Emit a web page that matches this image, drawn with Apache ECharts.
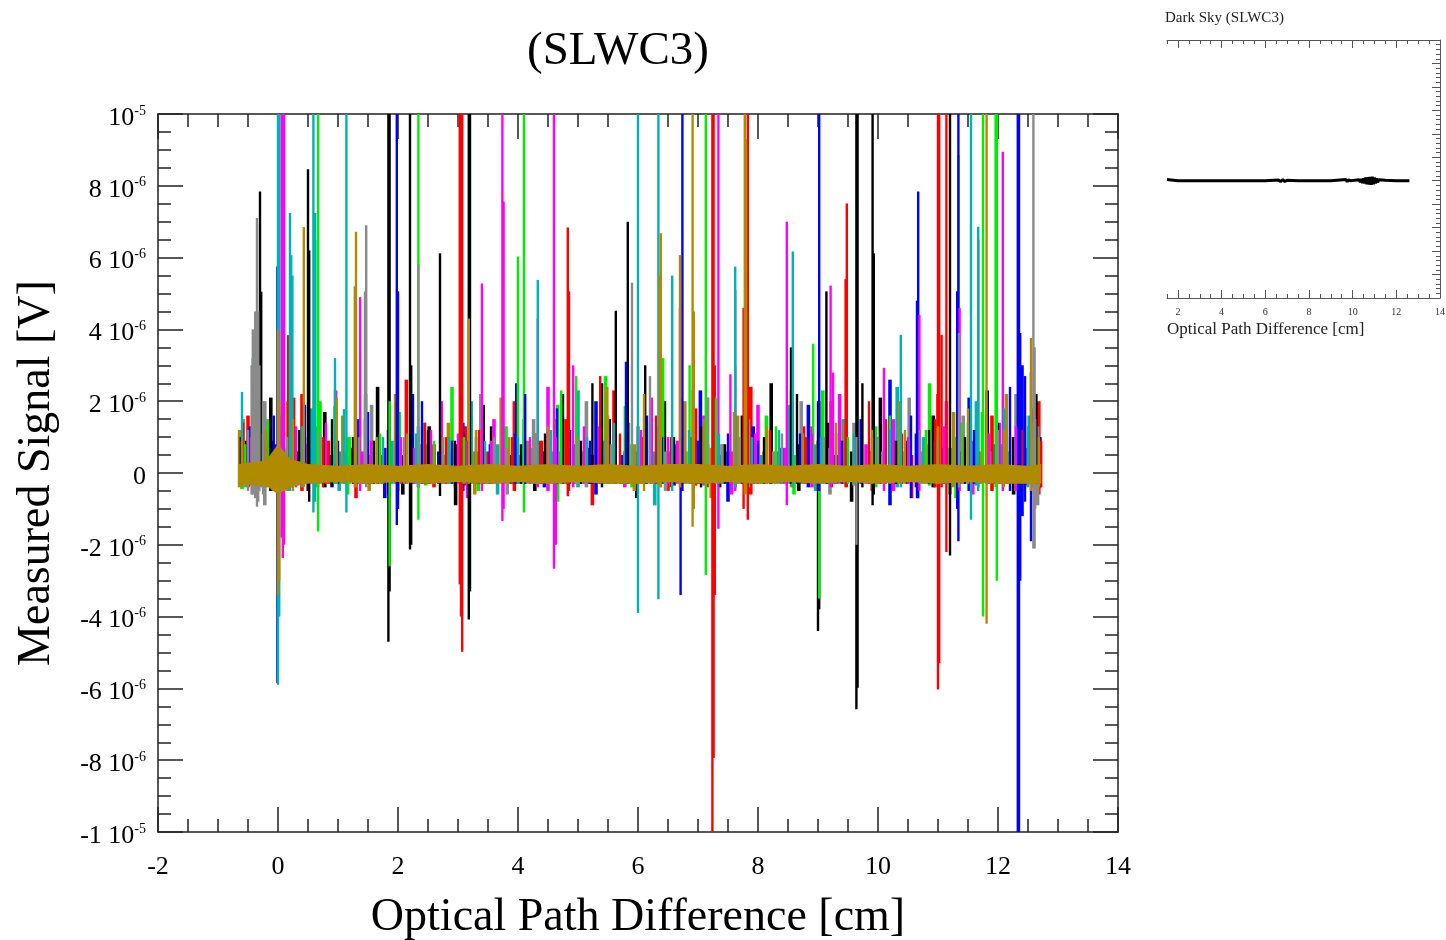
<!DOCTYPE html>
<html>
<head>
<meta charset="utf-8">
<script src="https://cdn.jsdelivr.net/npm/echarts@6/dist/echarts.min.js"></script>
<style>
html,body{margin:0;padding:0;background:#fff;}
#chart{width:1446px;height:940px;}
</style>
</head>
<body>
<div id="chart"></div>
<script>
// ---------------- DATA (signal in units of 1e-6 V) ----------------
// each spike: [opticalPathDifference_cm, topValue, bottomValue]; values beyond +/-10 run off the frame
const seriesNames = ['black','red','green','blue','magenta','cyan','olive','gray'];

const spikesBlack = [
 [-0.30,7.84,-0.3],[-0.28,5.05,-0.3],[0.50,8.46,-0.5],[0.52,6.2,-0.8],[1.84,12,-4.7],[1.86,12,-3.3],
 [2.20,12,-2.13],[2.22,3.0,-2.0],[2.70,6.12,-0.64],[3.18,12,-4.08],[3.20,12,-3.3],[5.63,4.52,-0.3],
 [5.83,7.0,-0.3],[9.00,2.0,-4.4],[9.02,2.0,-3.8],[9.14,5.06,-0.3],[9.64,12,-6.58],[9.66,12,-5.98],
 [9.91,12,-0.9],[9.93,6.12,-0.6],[11.20,12,-2.3],[12.64,2.2,-0.3],
 [-0.62,1.0,-0.3],[-0.10,0.9,-0.4],[0.35,1.2,-0.3],[0.90,1.5,-0.35],[1.25,1.0,-0.3],[1.60,0.9,-0.3],
 [2.50,1.2,-0.3],[2.95,0.9,-0.4],[3.55,1.3,-0.3],[4.05,0.8,-0.3],[4.45,1.1,-0.3],[5.05,0.9,-0.3],
 [5.24,2.5,-0.3],[5.40,2.5,-0.4],[6.12,3.0,-0.3],[6.60,1.0,-0.3],[7.05,1.3,-0.4],[7.45,0.8,-0.3],
 [8.10,1.0,-0.3],[8.55,3.5,-0.3],[8.65,2.2,-0.3],[9.30,1.1,-0.3],[9.74,2.5,-0.4],[10.30,0.9,-0.3],
 [10.85,1.2,-0.3],[11.45,1.0,-0.3],[12.00,1.4,-0.3],[12.45,1.6,-0.4]
];
const spikesRed = [
 [0.17,3.84,-0.3],[3.03,12,-3.1],[3.05,12,-4.0],[3.07,12,-4.98],[4.83,6.84,-0.65],[4.85,5.06,-0.5],
 [7.24,12,-12],[7.26,12,-7.94],[7.28,3.0,-3.4],[7.76,4.6,-1.0],[7.83,12,-1.3],[9.46,5.4,-0.4],
 [9.48,7.51,-0.4],[11.00,12,-6.03],[11.02,12,-5.3],[11.14,12,-2.2],[11.67,6.5,-0.4],
 [-0.58,1.4,-0.3],[-0.20,0.9,-0.3],[0.27,2.1,-0.3],[0.75,1.0,-0.4],[1.45,1.5,-0.3],[1.98,2.0,-0.3],
 [2.45,1.4,-0.3],[2.80,1.0,-0.3],[3.35,1.2,-0.3],[3.90,1.0,-0.3],[4.40,0.9,-0.3],[5.37,2.7,-0.3],
 [5.70,1.1,-0.3],[6.30,1.6,-0.3],[6.55,1.0,-0.4],[7.16,2.1,-0.4],[8.20,1.2,-0.3],[8.80,1.0,-0.3],
 [9.85,2.0,-0.3],[10.40,1.1,-0.3],[10.95,1.5,-0.4],[11.06,3.85,-0.4],[11.98,1.7,-0.3],[12.40,1.2,-0.3],
 [12.72,0.9,-0.4]
];
const spikesGreen = [
 [0.62,6.5,-0.4],[0.67,12,-1.63],[1.86,2.0,-2.6],[2.34,12,-1.3],[4.00,6.03,-0.3],[4.10,12,-1.1],
 [7.13,12,-2.84],[9.02,1.5,-3.5],[11.34,8.86,-0.4],[11.75,12,-4.0],[11.96,12,-0.4],[11.98,12,-3.0],
 [-0.55,0.8,-0.4],[0.10,1.1,-0.5],[0.94,1.87,-0.3],[1.20,1.0,-0.3],[1.70,1.1,-0.3],[2.60,0.9,-0.3],
 [3.10,1.0,-0.3],[3.60,0.8,-0.3],[4.72,2.3,-0.3],[4.97,2.7,-0.3],[5.78,1.87,-0.3],[6.42,3.2,-0.3],
 [6.86,3.0,-0.3],[7.30,2.1,-0.3],[7.62,3.0,-0.3],[8.30,1.3,-0.3],[8.92,3.6,-0.3],[9.50,1.0,-0.3],
 [10.20,1.6,-0.3],[10.80,1.2,-0.3],[11.40,1.4,-0.3],[12.20,1.0,-0.3],[12.60,0.9,-0.3]
];
const spikesBlue = [
 [-0.01,5.75,-5.85],[1.98,12,-1.45],[2.00,5.06,-1.0],[6.71,1.0,-3.4],[6.74,12,-0.5],[9.02,12,-0.5],
 [10.65,4.8,-0.7],[10.67,7.84,-0.7],[11.32,5.06,-1.0],[11.34,12,-1.9],[12.33,12,-12],[12.35,12,-12],
 [12.37,3.9,-3.0],[12.55,2.8,-1.9],
 [-0.50,0.9,-0.3],[-0.07,1.6,-0.4],[0.45,1.0,-0.3],[1.00,0.9,-0.3],[1.50,1.7,-0.3],[2.40,2.0,-0.3],
 [2.90,0.9,-0.3],[3.30,1.0,-0.3],[3.95,1.1,-0.3],[4.12,2.2,-0.3],[4.65,1.8,-0.3],[5.20,0.9,-0.3],
 [5.80,3.1,-0.3],[6.40,1.0,-0.3],[7.00,0.9,-0.3],[7.50,1.1,-0.3],[8.00,0.9,-0.3],[8.70,1.1,-0.3],
 [9.40,0.9,-0.3],[10.00,1.0,-0.3],[10.55,1.6,-0.7],[11.60,1.2,-0.3],[12.20,2.4,-0.5],[12.45,2.7,-0.8]
];
const spikesMagenta = [
 [0.06,12,-1.8],[0.08,12,-2.37],[0.10,12,-2.0],[1.37,4.9,-0.5],[3.40,5.28,-0.5],[3.74,12,-1.34],
 [3.76,7.56,-1.0],[4.33,4.3,-0.4],[4.60,12,-2.67],[4.63,1.0,-2.0],[4.92,3.0,-0.4],[6.70,4.6,-0.4],
 [7.34,12,-1.55],[7.62,5.1,-0.5],[8.48,7.0,-0.9],[9.21,5.22,-0.4],[10.10,2.93,-0.5],[10.69,4.4,-0.5],
 [11.36,4.6,-0.5],[12.08,8.95,-0.5],
 [-0.45,1.0,-0.3],[0.30,1.3,-0.4],[0.80,1.4,-0.3],[1.55,0.9,-0.3],[2.05,1.0,-0.3],[2.55,1.2,-0.3],
 [3.00,1.1,-0.3],[3.55,0.9,-0.3],[4.20,1.0,-0.3],[5.10,1.3,-0.3],[5.50,1.0,-0.3],[6.05,1.2,-0.3],
 [6.50,1.0,-0.3],[7.54,2.75,-0.3],[7.95,1.1,-0.3],[8.90,1.1,-0.3],[9.25,2.8,-0.3],[9.90,1.0,-0.3],
 [10.50,1.0,-0.3],[11.10,1.3,-0.3],[11.85,1.1,-0.3],[12.30,1.3,-0.5]
];
const spikesCyan = [
 [-0.60,2.26,-0.3],[-0.42,3.2,-0.3],[0.00,12,-5.9],[0.02,12,-4.0],[0.20,7.24,-0.5],[0.22,6.07,-0.4],
 [0.24,5.5,-0.4],[0.59,12,-1.1],[0.62,7.24,-0.8],[1.14,12,-1.1],[4.33,5.38,-0.3],[6.00,12,-3.9],[6.34,12,-3.52],
 [6.57,5.5,-0.5],[7.62,5.75,-0.4],[8.58,6.17,-0.4],[10.38,3.85,-0.4],[11.55,12,-1.3],[11.67,6.86,-0.5],
 [-0.25,1.1,-0.4],[0.40,1.3,-0.4],[0.95,3.2,-0.3],[1.10,1.78,-0.3],[1.75,1.0,-0.3],[2.30,1.1,-0.3],
 [2.85,1.0,-0.3],[3.45,0.9,-0.3],[4.00,1.0,-0.3],[4.55,1.2,-0.3],[5.15,1.0,-0.3],[5.60,1.4,-0.3],
 [6.20,1.4,-0.3],[6.85,1.2,-0.3],[7.35,1.1,-0.3],[7.90,1.0,-0.3],[8.35,1.2,-0.3],[9.05,1.0,-0.3],
 [9.60,1.1,-0.3],[10.20,1.2,-0.3],[11.00,1.0,-0.3],[11.50,1.4,-0.3],[12.10,1.8,-0.3],[12.50,1.3,-0.4]
];
const spikesOlive = [
 [0.00,4.0,-3.4],[0.02,2.0,-3.0],[0.43,6.85,-0.4],[1.28,5.2,-0.4],[1.30,6.72,-0.4],[3.18,4.3,-0.3],
 [6.36,5.5,-0.4],[6.38,6.68,-0.4],[6.70,6.07,-0.4],[6.91,12,-1.5],[6.93,4.5,-1.0],[7.78,12,-0.6],
 [7.80,9.3,-0.6],[11.81,12,-4.2],[12.55,3.76,-0.5],
 [-0.60,0.9,-0.4],[-0.20,1.2,-0.4],[0.25,1.5,-0.5],[0.98,2.1,-0.3],[1.65,1.0,-0.3],[2.15,1.1,-0.3],
 [2.75,1.0,-0.3],[3.30,1.2,-0.3],[3.85,1.0,-0.3],[4.50,1.3,-0.3],[5.00,1.0,-0.3],[5.50,1.6,-0.3],
 [6.10,2.2,-0.5],[7.10,1.5,-0.3],[7.60,1.7,-0.3],[8.15,1.3,-0.3],[8.75,1.1,-0.3],[9.30,1.4,-0.3],
 [9.90,1.2,-0.3],[10.45,1.2,-0.3],[11.00,1.3,-0.3],[11.50,1.8,-0.3],[12.10,1.2,-0.4],[12.68,1.0,-0.4]
];
const spikesGray = [
 [-0.44,3.0,-0.6],[-0.42,4.0,-0.6],[-0.40,2.5,-0.5],[-0.38,4.5,-0.7],[-0.35,7.1,-0.94],[-0.33,4.5,-0.8],
 [-0.31,3.0,-0.5],[1.45,5.06,-0.3],[1.47,6.9,-0.4],
 [2.34,5.8,-0.4],[5.90,5.3,-0.3],[9.64,1.0,-2.0],[12.59,12,-2.1],[12.61,3.5,-2.1],
 [-0.50,1.2,-0.5],[-0.25,2.0,-0.6],[0.15,1.0,-0.3],[0.70,1.1,-0.3],[1.35,1.0,-0.3],[2.10,1.0,-0.3],
 [2.75,0.9,-0.3],[3.60,1.0,-0.3],[4.30,1.1,-0.3],[5.00,0.9,-0.3],[6.20,2.7,-0.3],[7.17,2.1,-0.3],
 [7.70,1.0,-0.3],[8.40,1.1,-0.3],[9.10,1.0,-0.3],[10.00,1.0,-0.3],[10.70,1.2,-0.3],[11.35,3.9,-0.4],
 [12.00,1.2,-0.3],[12.62,1.5,-1.0]
];

// low-level noise bins per colour: [x_cm, top, bottom]
const noiseBlack = [[-0.55,0.9,-0.3],[-0.12,2.1,-0.5],[0.32,0.6,-0.3],[0.78,1.7,-0.4],[1.22,0.7,-0.25],[1.66,2.4,-0.3],[2.08,0.5,-0.6],[2.52,1.3,-0.3],[2.96,0.8,-0.9],[3.42,1.9,-0.3],[3.86,0.5,-0.3],[4.28,1.1,-0.5],[4.74,2.2,-0.3],[5.18,0.7,-0.3],[5.52,1.5,-0.3],[5.98,0.6,-0.7],[6.44,2.0,-0.3],[6.88,1.0,-0.3],[7.36,0.5,-0.4],[7.74,1.6,-0.3],[8.22,2.5,-0.3],[8.68,0.8,-0.5],[9.16,1.4,-0.3],[9.56,0.6,-0.8],[10.04,2.1,-0.3],[10.48,0.9,-0.3],[10.92,1.6,-0.4],[11.38,0.6,-0.3],[11.82,2.3,-0.3],[12.26,1.0,-0.6],[12.60,1.8,-0.4]];
const noiseRed = [[-0.5,1.6,-0.4],[-0.05,0.6,-0.3],[0.4,2.2,-0.5],[0.84,0.9,-0.3],[1.3,1.4,-0.7],[1.72,0.5,-0.3],[2.14,2.6,-0.3],[2.6,0.8,-0.4],[3.12,1.3,-0.35],[3.5,0.6,-0.3],[3.94,2.0,-0.5],[4.36,0.9,-0.3],[4.8,1.5,-0.3],[5.24,0.5,-0.9],[5.6,2.3,-0.3],[6.06,1.0,-0.3],[6.5,0.6,-0.5],[6.96,1.8,-0.35],[7.42,0.8,-0.3],[7.88,2.4,-0.6],[8.3,0.6,-0.3],[8.76,1.3,-0.3],[9.22,2.0,-0.4],[9.64,0.7,-0.3],[10.12,1.5,-0.3],[10.56,0.5,-0.7],[11.0,2.2,-0.35],[11.44,0.9,-0.3],[11.9,1.6,-0.5],[12.34,0.7,-0.3],[12.68,2.0,-0.6]];
const noiseGreen = [[-0.6,0.7,-0.45],[-0.18,1.5,-0.4],[0.26,0.6,-0.35],[0.7,2.0,-0.3],[1.16,1.0,-0.6],[1.58,0.5,-0.3],[2.02,1.7,-0.3],[2.46,0.8,-0.35],[2.9,2.4,-0.3],[3.34,0.6,-0.5],[3.8,1.3,-0.3],[4.22,0.7,-0.3],[4.66,1.9,-0.8],[5.1,0.5,-0.3],[5.46,2.7,-0.3],[5.9,0.8,-0.4],[6.36,1.4,-0.35],[6.8,0.6,-0.3],[7.26,2.1,-0.5],[7.68,0.9,-0.3],[8.14,1.6,-0.3],[8.6,0.5,-0.6],[9.08,2.3,-0.3],[9.48,0.8,-0.3],[9.96,1.3,-0.4],[10.4,0.6,-0.3],[10.86,2.5,-0.35],[11.3,1.0,-0.7],[11.74,1.7,-0.3],[12.18,0.6,-0.3],[12.56,1.4,-0.35]];
const noiseBlue = [[-0.46,1.3,-0.35],[-0.02,0.8,-0.5],[0.44,1.9,-0.3],[0.9,0.5,-0.4],[1.34,1.5,-0.3],[1.78,0.7,-0.7],[2.24,2.2,-0.3],[2.68,0.6,-0.3],[3.08,1.4,-0.5],[3.54,0.8,-0.3],[3.98,2.5,-0.3],[4.44,0.6,-0.4],[4.86,1.2,-0.3],[5.3,2.0,-0.6],[5.72,0.5,-0.3],[6.14,1.6,-0.3],[6.6,0.8,-0.35],[7.04,2.3,-0.3],[7.5,0.6,-0.8],[7.92,1.3,-0.3],[8.4,0.7,-0.3],[8.84,1.9,-0.4],[9.3,0.5,-0.3],[9.72,1.5,-0.3],[10.2,2.6,-0.9],[10.64,1.1,-0.4],[11.08,0.7,-0.3],[11.52,2.1,-0.5],[11.96,0.8,-0.3],[12.4,3.0,-1.2],[12.7,1.0,-0.4]];
const noiseMagenta = [[-0.4,0.6,-0.3],[0.04,1.6,-0.45],[0.5,0.8,-0.5],[0.96,2.3,-0.3],[1.4,0.6,-0.3],[1.84,1.2,-0.6],[2.28,0.7,-0.3],[2.72,2.0,-0.3],[3.16,0.9,-0.7],[3.6,1.5,-0.3],[4.04,0.5,-0.3],[4.5,2.4,-0.5],[4.94,0.8,-0.3],[5.36,1.3,-0.3],[5.78,0.6,-0.4],[6.22,2.1,-0.3],[6.66,0.9,-0.3],[7.1,1.6,-0.35],[7.56,0.6,-0.6],[8.0,1.9,-0.3],[8.46,0.7,-0.3],[8.9,1.3,-0.4],[9.36,2.2,-0.3],[9.8,0.8,-0.3],[10.26,1.5,-0.5],[10.7,0.6,-0.3],[11.14,2.0,-0.3],[11.58,0.9,-0.6],[12.02,1.4,-0.3],[12.46,0.7,-0.35]];
const noiseCyan = [[-0.34,1.4,-0.35],[0.1,0.7,-0.4],[0.56,1.8,-0.3],[1.02,0.6,-0.5],[1.46,2.2,-0.3],[1.9,0.9,-0.3],[2.34,1.3,-0.4],[2.78,0.5,-0.3],[3.22,2.0,-0.3],[3.66,0.8,-0.6],[4.1,1.5,-0.3],[4.56,0.6,-0.3],[5.0,2.3,-0.4],[5.42,0.9,-0.3],[5.84,1.4,-0.3],[6.28,0.6,-0.9],[6.72,2.1,-0.3],[7.16,0.8,-0.3],[7.62,1.3,-0.4],[8.06,0.5,-0.3],[8.52,1.9,-0.3],[8.96,0.8,-0.5],[9.42,1.5,-0.3],[9.86,0.6,-0.3],[10.32,2.4,-0.4],[10.76,1.0,-0.3],[11.2,0.7,-0.6],[11.64,2.0,-0.35],[12.08,0.8,-0.3],[12.52,1.6,-0.3]];
const noiseOlive = [[-0.64,1.2,-0.4],[-0.28,0.8,-0.4],[0.16,2.0,-0.5],[0.62,0.7,-0.3],[1.08,1.6,-0.3],[1.52,0.5,-0.5],[1.96,2.2,-0.3],[2.4,0.8,-0.3],[2.84,1.4,-0.3],[3.28,0.6,-0.6],[3.72,2.1,-0.3],[4.16,0.9,-0.3],[4.62,1.5,-0.4],[5.06,0.6,-0.3],[5.48,2.4,-0.3],[5.94,0.8,-0.5],[6.32,1.3,-0.3],[6.78,2.0,-0.3],[7.22,0.7,-0.7],[7.66,1.6,-0.3],[8.1,0.6,-0.3],[8.56,2.3,-0.4],[9.0,0.9,-0.3],[9.44,1.4,-0.3],[9.9,0.6,-0.5],[10.36,2.0,-0.3],[10.8,0.8,-0.3],[11.26,1.7,-0.4],[11.7,0.6,-0.3],[12.14,2.2,-0.3],[12.62,1.0,-0.4]];
const noiseGray = [[-0.58,1.5,-0.4],[-0.22,2.0,-0.9],[0.22,0.7,-0.3],[0.66,1.3,-0.4],[1.12,0.6,-0.3],[1.56,1.9,-0.3],[2.0,0.8,-0.5],[2.44,1.4,-0.3],[2.88,0.6,-0.3],[3.38,2.2,-0.3],[3.82,0.7,-0.6],[4.26,1.5,-0.3],[4.7,0.6,-0.3],[5.14,2.0,-0.4],[5.56,0.8,-0.3],[6.0,1.3,-0.3],[6.46,0.6,-0.5],[6.92,2.3,-0.3],[7.4,0.8,-0.3],[7.84,1.5,-0.4],[8.26,0.6,-0.3],[8.72,2.0,-0.3],[9.2,0.7,-0.6],[9.6,1.4,-0.35],[10.08,0.6,-0.3],[10.52,2.1,-0.3],[10.96,0.9,-0.4],[11.42,1.6,-0.3],[11.86,0.6,-0.3],[12.3,2.2,-0.5],[12.66,1.3,-0.9]];

// dense baseline noise band (olive) envelope
const bandX   = [-0.65,-0.4,-0.2,0,0.2,0.5,1,1.5,2,2.5,3,3.5,4,4.5,5,5.5,6,6.5,7,7.5,8,8.5,9,9.5,10,10.5,11,11.5,12,12.5,12.72];
const bandTop = [0.25,0.3,0.35,0.8,0.4,0.25,0.2,0.25,0.2,0.25,0.2,0.25,0.2,0.25,0.2,0.25,0.2,0.25,0.25,0.2,0.25,0.2,0.25,0.2,0.25,0.2,0.25,0.2,0.25,0.2,0.25];
const bandBot = [-0.3,-0.35,-0.35,-0.6,-0.4,-0.3,-0.25,-0.3,-0.25,-0.3,-0.25,-0.3,-0.25,-0.3,-0.25,-0.3,-0.3,-0.25,-0.3,-0.25,-0.3,-0.25,-0.3,-0.25,-0.3,-0.25,-0.3,-0.25,-0.3,-0.3,-0.3];

// axis tick labels
const xTickValues = [-2,0,2,4,6,8,10,12,14];
const yTickLabels = ['-1 10^-5','-8 10^-6','-6 10^-6','-4 10^-6','-2 10^-6','0','2 10^-6','4 10^-6','6 10^-6','8 10^-6','10^-5'];

// inset (Dark Sky)
const insetX = [1.5,2,3,4,5,6,6.6,6.7,6.8,6.9,7.0,7.5,8,9,9.7,9.75,9.8,9.9,10.3,10.35,10.4,10.45,10.5,10.55,10.6,10.65,10.7,10.75,10.8,10.85,10.9,10.95,11.0,11.05,11.1,11.15,11.2,11.5,12,12.6];
const insetY = [0.05,0,0,0,0,0,0.03,-0.03,0.04,-0.03,0.02,0,0,0,0.05,-0.05,0.04,0,0.04,-0.06,0.08,-0.1,0.1,-0.12,0.14,-0.15,0.15,-0.16,0.16,-0.17,0.17,-0.15,0.14,-0.12,0.1,-0.07,0.04,0.02,0,0];
const insetXTicksMajor = [2,4,6,8,10,12,14];

// ---------------- CHART ----------------
const COLORS = {black:'#000000',red:'#ff0000',green:'#00ee00',blue:'#0000ff',magenta:'#ff00ff',cyan:'#00b2b2',olive:'#b08a00',gray:'#8a8a8a'};
const SPIKES = {black:spikesBlack,red:spikesRed,green:spikesGreen,blue:spikesBlue,magenta:spikesMagenta,cyan:spikesCyan,olive:spikesOlive,gray:spikesGray};
const NOISE = {black:noiseBlack,red:noiseRed,green:noiseGreen,blue:noiseBlue,magenta:noiseMagenta,cyan:noiseCyan,olive:noiseOlive,gray:noiseGray};
const Y_MIN=-10, Y_MAX=10;
const SERIF = '"Liberation Serif","DejaVu Serif",serif';

function spikeRenderer(color, w){
  return function(params, api){
    const x = api.value(0);
    const t = Math.min(api.value(1), Y_MAX);
    const b = Math.max(api.value(2), Y_MIN);
    const p1 = api.coord([x, t]);
    const p2 = api.coord([x, b]);
    return {type:'rect', shape:{x:p1[0]-w/2, y:p1[1], width:w, height:Math.max(p2[1]-p1[1],1)}, style:{fill:color}};
  };
}

const series = [];
seriesNames.forEach(n => series.push({
  type:'custom', name:n+'-noise', xAxisIndex:0, yAxisIndex:0, clip:true,
  renderItem: spikeRenderer(COLORS[n], 3.6), encode:{x:0, y:[1,2]},
  data: NOISE[n], silent:true, animation:false
}));
seriesNames.forEach(n => series.push({
  type:'custom', name:n, xAxisIndex:0, yAxisIndex:0, clip:true,
  renderItem: spikeRenderer(COLORS[n], 2.4), encode:{x:0, y:[1,2]},
  data: SPIKES[n], silent:true, animation:false
}));
series.push({
  type:'custom', name:'band', xAxisIndex:0, yAxisIndex:0, clip:true, silent:true, animation:false,
  data:[[0,0,0]], encode:{x:0,y:1},
  renderItem: function(params, api){
    const pts = [];
    for (let i=0;i<bandX.length;i++) pts.push(api.coord([bandX[i], bandTop[i]]));
    for (let i=bandX.length-1;i>=0;i--) pts.push(api.coord([bandX[i], bandBot[i]]));
    return {type:'polygon', shape:{points:pts}, style:{fill:COLORS.olive}};
  }
});

series.push({
  type:'line', xAxisIndex:2, yAxisIndex:2, showSymbol:false, animation:false, silent:true,
  data: insetX.map((x,i)=>[x, insetY[i]]),
  lineStyle:{color:'#000', width:3}
});

const axisCol = '#222';
const mainX = (pos, labels) => ({
  type:'value', gridIndex:0, position:pos, min:-2, max:14, interval:2,
  axisLine:{show:true, onZero:false, lineStyle:{color:axisCol, width:1.5}},
  axisTick:{show:true, inside:true, length:25, lineStyle:{color:axisCol, width:1.5}},
  minorTick:{show:true, splitNumber:4, length:13, lineStyle:{color:axisCol, width:1.5}},
  splitLine:{show:false}, minorSplitLine:{show:false},
  axisLabel: labels ? {show:true, fontSize:26, fontFamily:SERIF, color:'#000', margin:22,
     showMinLabel:true, showMaxLabel:true,
     formatter: v => (xTickValues.indexOf(v) >= 0 ? String(v) : '')} : {show:false},
  name: labels ? 'Optical Path Difference [cm]' : '',
  nameLocation:'middle', nameGap:63,
  nameTextStyle:{fontSize:46, fontFamily:SERIF, color:'#000'}
});
const mainY = (pos, labels) => ({
  type:'value', gridIndex:0, position:pos, min:Y_MIN, max:Y_MAX, interval:2,
  axisLine:{show:true, onZero:false, lineStyle:{color:axisCol, width:1.5}},
  axisTick:{show:true, inside:true, length:25, lineStyle:{color:axisCol, width:1.5}},
  minorTick:{show:true, splitNumber:4, length:13, lineStyle:{color:axisCol, width:1.5}},
  splitLine:{show:false}, minorSplitLine:{show:false},
  axisLabel: labels ? {show:true, margin:12, showMinLabel:true, showMaxLabel:true,
     padding:[8,0,0,0],
     formatter: v => {
       const s = yTickLabels[Math.round((v - Y_MIN)/2)] || '';
       const k = s.indexOf('^');
       return k < 0 ? '{m|'+s+'}' : '{m|'+s.slice(0,k)+'}{s|'+s.slice(k+1)+'}';
     },
     rich:{
       m:{fontSize:26, fontFamily:SERIF, color:'#000', lineHeight:28},
       s:{fontSize:14, fontFamily:SERIF, color:'#000', lineHeight:18, verticalAlign:'top'}
     }} : {show:false},
  name: labels ? 'Measured Signal [V]' : '',
  nameLocation:'middle', nameGap:98,
  nameTextStyle:{fontSize:46, fontFamily:SERIF, color:'#000'}
});

const insetCol = '#555';
const insetX_ax = (pos, major) => ({
  type:'value', gridIndex:1, position:pos, min:1.5, max:14, interval:0.5,
  axisLine:{show:!major, onZero:false, lineStyle:{color:insetCol, width:1}},
  axisTick: major ? {show:true, inside:true, length:8, customValues:insetXTicksMajor, lineStyle:{color:insetCol}}
                  : {show:true, inside:true, length:4, lineStyle:{color:insetCol}},
  splitLine:{show:false},
  axisLabel: (pos==='bottom' && !major) ? {show:true, interval:0, fontSize:10, fontFamily:SERIF, color:'#333', margin:9,
     formatter: v => (insetXTicksMajor.indexOf(v) >= 0 ? String(v) : '')} : {show:false}
});

const option = {
  backgroundColor:'#fff',
  animation:false,
  grid:[
    {left:158, top:114, width:960, height:718, containLabel:false, outerBoundsMode:'none'},
    {left:1167, top:40, width:273, height:258, containLabel:false, outerBoundsMode:'none'}
  ],
  xAxis:[ mainX('bottom', true), mainX('top', false),
          insetX_ax('bottom', false), insetX_ax('top', false),
          insetX_ax('bottom', true), insetX_ax('top', true) ],
  yAxis:[ mainY('left', true), mainY('right', false),
    { type:'value', gridIndex:1, position:'right', min:-5, max:6, interval:1,
      axisLine:{show:true, onZero:false, lineStyle:{color:insetCol, width:1}},
      axisTick:{show:true, inside:true, length:8, lineStyle:{color:insetCol}},
      minorTick:{show:true, splitNumber:5, length:4, lineStyle:{color:insetCol}},
      splitLine:{show:false}, axisLabel:{show:false} } ],
  series: series,
  graphic:[
    {type:'text', x:618, y:52, style:{text:'(SLWC3)', font:'47px '+SERIF, fill:'#000', textAlign:'center', textVerticalAlign:'middle'}},
    {type:'text', x:1165, y:18, style:{text:'Dark Sky (SLWC3)', font:'15px '+SERIF, fill:'#222', textAlign:'left', textVerticalAlign:'middle'}},
    {type:'text', x:1167, y:330, style:{text:'Optical Path Difference [cm]', font:'17px '+SERIF, fill:'#222', textAlign:'left', textVerticalAlign:'middle'}}
  ]
};

const chart = echarts.init(document.getElementById('chart'), null, {renderer:'canvas'});
chart.setOption(option);
</script>
</body>
</html>
